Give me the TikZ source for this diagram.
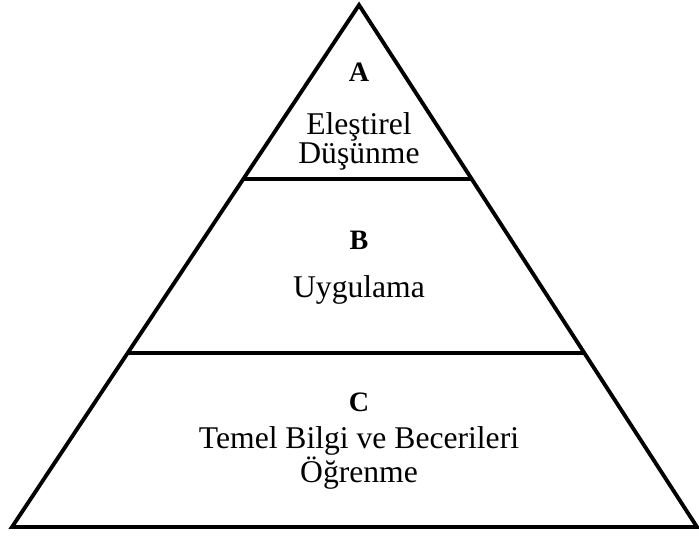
\documentclass[tikz,border=0pt]{standalone}
\usepackage{fontspec}
\setmainfont{Liberation Serif}
\usetikzlibrary{calc}

\begin{document}
\begin{tikzpicture}[x=0.02cm, y=-0.02cm, line width=2.2pt,
    letter/.style={font=\fontsize{16}{16}\selectfont\bfseries},
    tiertext/.style={font=\fontsize{18}{16.5}\selectfont, align=center, inner sep=0pt}]
    \useasboundingbox (0,0) rectangle (699,536);
    \coordinate (apex) at (359,5);
    \coordinate (bl) at (12,527);
    \coordinate (br) at (697,527);
    \draw[line join=miter] (apex) -- (bl) -- (br) -- cycle;
    % dividers
    \draw ($(apex)!1/3!(bl)$) -- ($(apex)!1/3!(br)$);
    \draw ($(apex)!2/3!(bl)$) -- ($(apex)!2/3!(br)$);
    \node[letter] (la) at (359,72) {A};
    \node[tiertext] (ta) at (359,141) {Eleştirel\\Düşünme};
    \node[letter] (lb) at (359,240) {B};
    \node[tiertext] (tb) at (359,290) {Uygulama};
    \node[letter] (lc) at (359,402) {C};
    \node[tiertext] (tc) at (359,458) {Temel Bilgi ve Becerileri\\Öğrenme};
\end{tikzpicture}
\end{document}
